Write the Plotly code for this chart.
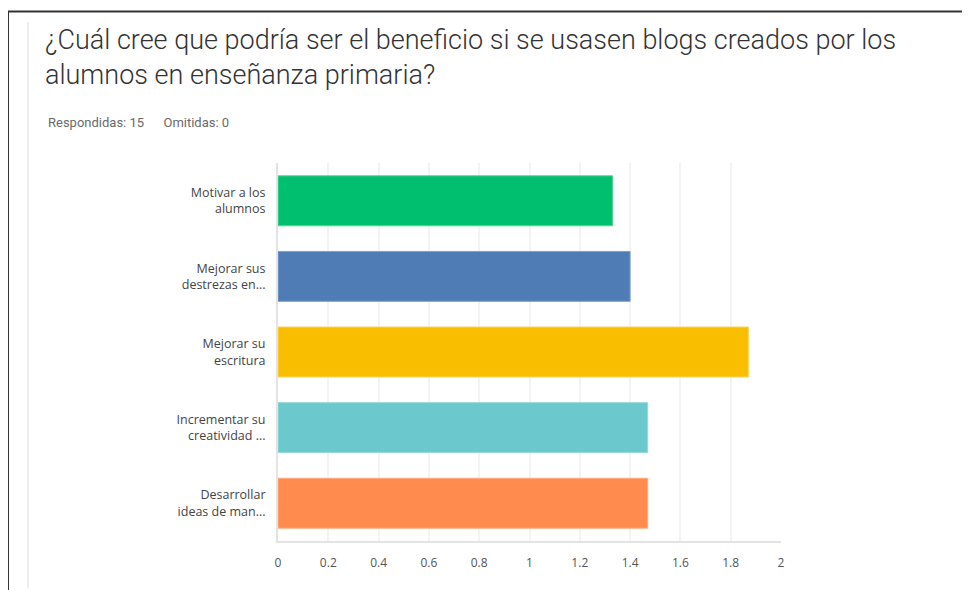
import plotly.graph_objects as go

categories = [
    "Motivar a los<br>alumnos",
    "Mejorar sus<br>destrezas en...",
    "Mejorar su<br>escritura",
    "Incrementar su<br>creatividad ...",
    "Desarrollar<br>ideas de man...",
]
values = [1.33, 1.40, 1.87, 1.47, 1.47]
colors = ["#00BF6F", "#507CB6", "#F9BE00", "#6BC8CD", "#FF8B4F"]
edge_colors = ["#4fd398", "#7f9fca", "#fbd055", "#97d8db", "#ffaa7d"]
tick_vals = [0, 0.2, 0.4, 0.6, 0.8, 1, 1.2, 1.4, 1.6, 1.8, 2]
tick_text = ["0", "0.2", "0.4", "0.6", "0.8", "1", "1.2", "1.4", "1.6", "1.8", "2"]

W, H = 970, 590
OFF = 8  # page offset of the figure (body margin)
# plot area in page pixels: left 278, right 781, top 163, bottom 540.75
L = 278 - OFF
R = W - (781 - OFF)
T = 163 - OFF
B = H - (540.75 - OFF)
pw, ph = W - L - R, H - T - B


def px(x):
    return (x - OFF - L) / pw


def py(y):
    return (H - B - (y - OFF)) / ph


fig = go.Figure(
    go.Bar(
        x=values,
        y=categories,
        orientation="h",
        marker=dict(color=colors, line=dict(color=edge_colors, width=1)),
        width=0.66,
        hoverinfo="x+y",
    )
)

fig.update_layout(
    width=W,
    height=H,
    margin=dict(l=L, r=R, t=T, b=B, pad=0),
    paper_bgcolor="white",
    plot_bgcolor="white",
    showlegend=False,
    font=dict(family="Open Sans, Roboto, sans-serif", color="#555"),
    xaxis=dict(
        range=[0, 2],
        tickvals=tick_vals,
        ticktext=tick_text,
        showgrid=True,
        gridcolor="#f3f3f3",
        gridwidth=2,
        zeroline=False,
        showline=True,
        linecolor="#e3e3e3",
        linewidth=2,
        ticks="outside",
        ticklen=10,
        tickcolor="rgba(0,0,0,0)",
        tickfont=dict(size=12, color="#555"),
        fixedrange=True,
    ),
    yaxis=dict(
        autorange="reversed",
        showgrid=False,
        zeroline=False,
        showline=True,
        linecolor="#e3e3e3",
        linewidth=2,
        ticks="outside",
        ticklen=8,
        tickcolor="rgba(0,0,0,0)",
        tickfont=dict(size=12.5, color="#444"),
        fixedrange=True,
    ),
)

shapes = [
    dict(type="line", xref="paper", yref="paper", x0=px(6), x1=px(980), y0=py(11.5), y1=py(11.5),
         line=dict(color="#333", width=2)),
    dict(type="line", xref="paper", yref="paper", x0=px(8), x1=px(8), y0=py(11), y1=py(600),
         line=dict(color="#333", width=2)),
    dict(type="line", xref="paper", yref="paper", x0=px(28), x1=px(28), y0=py(22), y1=py(588),
         line=dict(color="#eeeeee", width=2)),
]
fig.update_layout(shapes=shapes)

fig.add_annotation(
    text="¿Cuál cree que podría ser el beneficio si se usasen blogs creados por los<br>alumnos en enseñanza primaria?",
    xref="paper", yref="paper", x=px(43), y=py(22), xanchor="left", yanchor="top",
    showarrow=False, align="left",
    font=dict(family="Roboto, sans-serif", size=27, color="#333", weight=300),
)
fig.add_annotation(
    text="Respondidas: 15&nbsp;&nbsp;&nbsp;&nbsp;&nbsp;&nbsp;Omitidas: 0",
    xref="paper", yref="paper", x=px(46), y=py(123), xanchor="left", yanchor="middle",
    showarrow=False, align="left",
    font=dict(family="Roboto, sans-serif", size=13, color="#6a6a6a"),
)

fig.write_html("out.html")
